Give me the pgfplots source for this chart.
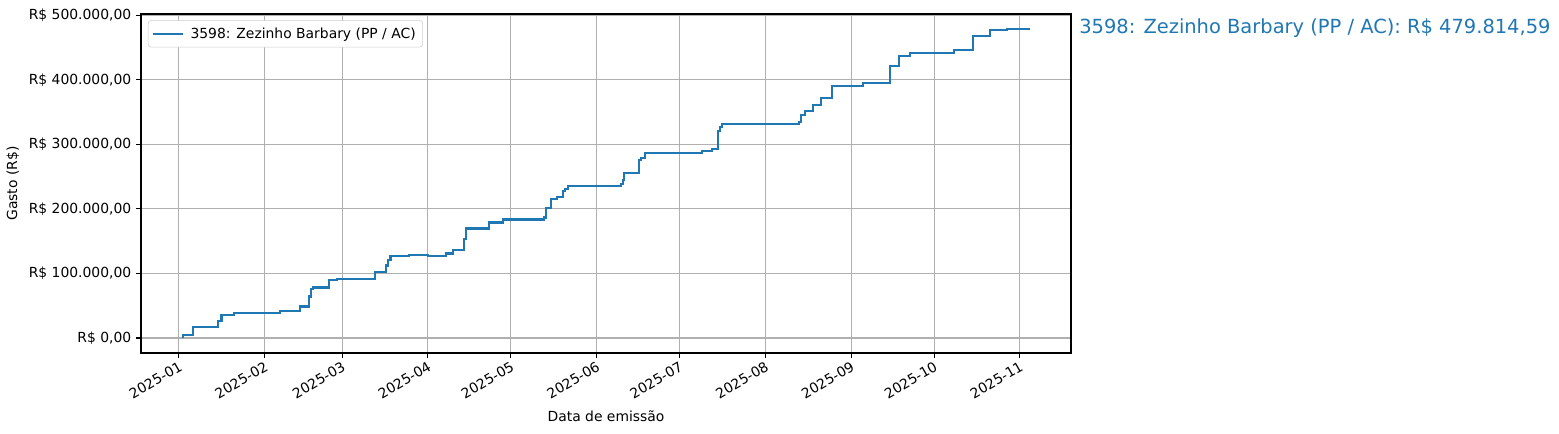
\documentclass[border=0pt]{standalone}
\usepackage{pgfplots}
\pgfplotsset{compat=1.18}
\usepackage{fontspec}
\setmainfont{DejaVu Sans}
\definecolor{tabblue}{RGB}{31,119,180}
\definecolor{gridgray}{HTML}{B0B0B0}
\begin{document}
\begin{tikzpicture}
\useasboundingbox (0,0) rectangle (1122.48pt,311.76pt);
\begin{axis}[
  at={(101.52pt,57.6pt)}, anchor=south west,
  scale only axis, width=669.6pt, height=244.08pt,
  xmin=-13.7, xmax=322.5, ymin=-23200, ymax=502000,
  clip=false,
  axis line style={line width=0.8pt},
  tick align=outside, major tick length=3.5pt,
  tick style={line width=0.8pt, black},
  xtick pos=bottom, ytick pos=left,
  xtick={0,31,59,90,120,151,181,212,243,273,304},
  xticklabels={2025-01,2025-02,2025-03,2025-04,2025-05,2025-06,2025-07,2025-08,2025-09,2025-10,2025-11},
  xticklabel style={rotate=30, anchor=north east, font=\fontsize{10}{12}\selectfont, inner sep=1.5pt},
  ytick={0,100000,200000,300000,400000,500000},
  yticklabels={R\$ 0{,}00,R\$ 100.000{,}00,R\$ 200.000{,}00,R\$ 300.000{,}00,R\$ 400.000{,}00,R\$ 500.000{,}00},
  yticklabel style={font=\fontsize{10}{12}\selectfont},
  scaled y ticks=false,
  grid=major,
  major grid style={color=gridgray, line width=0.8pt},
  xlabel={Data de emissão},
  ylabel={Gasto (R\$)},
  xlabel style={yshift=-3pt},
  label style={font=\fontsize{10}{12}\selectfont},
  legend style={at={(rel axis cs:0,1)}, anchor=north west, xshift=5pt, yshift=-4.5pt,
    draw=black!20, rounded corners=2pt, font=\fontsize{10}{12}\selectfont, inner sep=3pt,
    column sep=3pt},
  legend cell align=left,
  legend image code/.code={\draw[tabblue, line width=1.5pt] (0pt,0pt) -- (21pt,0pt);},
]
\addplot[const plot mark left, tabblue, line width=1.5pt] coordinates {
(1.3,1500) (1.6,5100) (5.2,16400) (14.0,26800) (15.4,36000) (19.9,39200)
(36.5,42300) (43.7,48900) (47.0,64400) (47.6,76300) (48.5,78300)
(54.3,90500) (57.0,92000) (71.0,103000) (75.0,112400) (75.6,121000) (76.5,127400)
(83.3,129000) (90.0,127600) (96.7,131000) (99.2,136700) (103.0,154000) (103.7,169700)
(112.0,179000) (117.3,183600) (132.0,186700) (132.7,202000) (134.4,215000)
(136.8,219000) (138.7,227500) (139.5,230600) (140.7,235700)
(159.8,238400) (160.5,245000) (161.0,255400) (166.2,276000) (167.0,279600) (168.5,287300)
(189.0,290000) (192.7,292600) (195.0,321000) (195.6,327500) (196.3,331700)
(224.1,335000) (225.0,345700) (226.2,352300) (229.1,361000) (232.0,372000)
(236.2,390600) (247.4,395000) (257.0,421500) (260.4,437000) (264.3,442000)
(280.2,446300) (287.2,467500) (288.4,468500) (293.2,477000) (299.2,478800)
(307.3,479815)
};
\addlegendentry{3598: Zezinho Barbary (PP / AC)}
\node[anchor=west, text=tabblue, font=\fontsize{14}{17}\selectfont, xshift=5.76pt, inner sep=0pt] at (axis cs:322.5,479815) {3598: Zezinho Barbary (PP / AC): R\$ 479.814,59};
\end{axis}
\end{tikzpicture}
\end{document}
